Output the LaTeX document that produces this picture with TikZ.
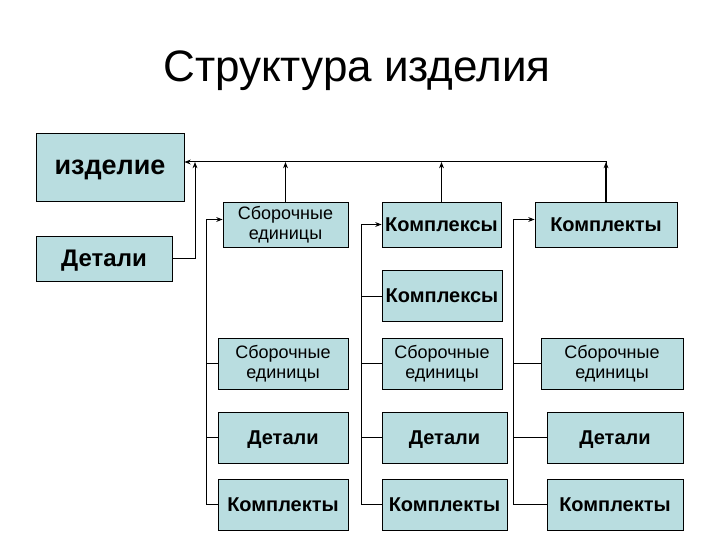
\documentclass[tikz,border=0pt]{standalone}
\usepackage{fontspec}
\setmainfont{Liberation Sans}
\usepackage{tikz}
\usetikzlibrary{arrows.meta}
\definecolor{cellfill}{RGB}{185,221,224}
\tikzset{
  cell/.style     = {draw=black,line width=0.9pt,fill=cellfill,inner sep=0pt,
                     align=center,minimum height=51pt},
  boldtxt/.style  = {font=\fontsize{20}{23}\selectfont\bfseries,text depth=0pt},
  plaintxt/.style = {font=\fontsize{18}{20}\selectfont},
  linkarr/.style  = {-{Stealth[length=2.2mm,width=1.7mm]},line width=1pt},
  uparr/.style    = {-{Stealth[length=2.2mm,width=1.7mm]},line width=1.6pt},
  branch/.style   = {line width=1pt}
}

\begin{document}
\begin{tikzpicture}[x=1pt,y=-1pt]
  \useasboundingbox (0,0) rectangle (720,540);
  \node[anchor=base] (title) at (357,82) {\fontsize{44}{50}\selectfont Структура изделия};

  % top part
  \node[cell,minimum width=148pt,minimum height=68pt,text depth=0pt,
        font=\fontsize{27}{30}\selectfont\bfseries] (izd) at (110,167) {изделие};
  \node[cell,minimum width=136pt,minimum height=45pt,text depth=0pt,
        font=\fontsize{24}{27}\selectfont\bfseries] (detL) at (104,258.5) {Детали};
  \node[cell,plaintxt,minimum width=125pt,minimum height=45pt] (sbTop) at (285.5,224.5) {Сборочные\\единицы};
  \node[cell,boldtxt,minimum width=119pt,minimum height=45pt] (kxTop) at (441.5,224.5) {Комплексы};
  \node[cell,boldtxt,minimum width=142pt,minimum height=45pt] (ktTop) at (606,224.5) {Комплекты};

  % lower part
  \node[cell,boldtxt,minimum width=120pt] (kxMid) at (442,296) {Комплексы};
  \node[cell,plaintxt,minimum width=130pt] (sb1) at (283,363.5) {Сборочные\\единицы};
  \node[cell,plaintxt,minimum width=120pt] (sb2) at (442,363.5) {Сборочные\\единицы};
  \node[cell,plaintxt,minimum width=142pt] (sb3) at (612,363.5) {Сборочные\\единицы};
  \node[cell,boldtxt,minimum width=130pt] (det1) at (283,437.5) {Детали};
  \node[cell,boldtxt,minimum width=125pt] (det2) at (444.5,437.5) {Детали};
  \node[cell,boldtxt,minimum width=136pt] (det3) at (615,437.5) {Детали};
  \node[cell,boldtxt,minimum width=130pt] (kt1) at (283,504.5) {Комплекты};
  \node[cell,boldtxt,minimum width=125pt] (kt2) at (444.5,504.5) {Комплекты};
  \node[cell,boldtxt,minimum width=136pt] (kt3) at (615,504.5) {Комплекты};

  % bus to the product
  \coordinate (bus) at ([yshift=5pt]izd.east);
  \coordinate (j0) at (195,162);
  \draw[linkarr] (ktTop.north) |- (bus);
  \draw[linkarr] (detL.east) -| (j0);
  \draw[uparr] (sbTop.north) -- (sbTop.north |- bus);
  \draw[linkarr] (kxTop.north) -- (kxTop.north |- bus);
  \draw[uparr] (ktTop.north) -- (ktTop.north |- bus);

  % three columns
  \draw[linkarr] (kt1.west) -- ++(-11,0) |- ([yshift=5pt]sbTop.west);
  \draw[branch] (sb1.west) -- ++(-11,0);
  \draw[branch] (det1.west) -- ++(-11,0);

  \draw[linkarr] (kt2.west) -- ++(-20,0) |- (kxTop.west);
  \draw[branch] (kxMid.west) -- ++(-20,0);
  \draw[branch] (sb2.west) -- ++(-20,0);
  \draw[branch] (det2.west) -- ++(-20,0);

  \draw[linkarr] (kt3.west) -- ++(-33,0) |- ([yshift=5pt]ktTop.west);
  \draw[branch] (sb3.west) -- ++(-27,0);
  \draw[branch] (det3.west) -- ++(-33,0);
\end{tikzpicture}
\end{document}
